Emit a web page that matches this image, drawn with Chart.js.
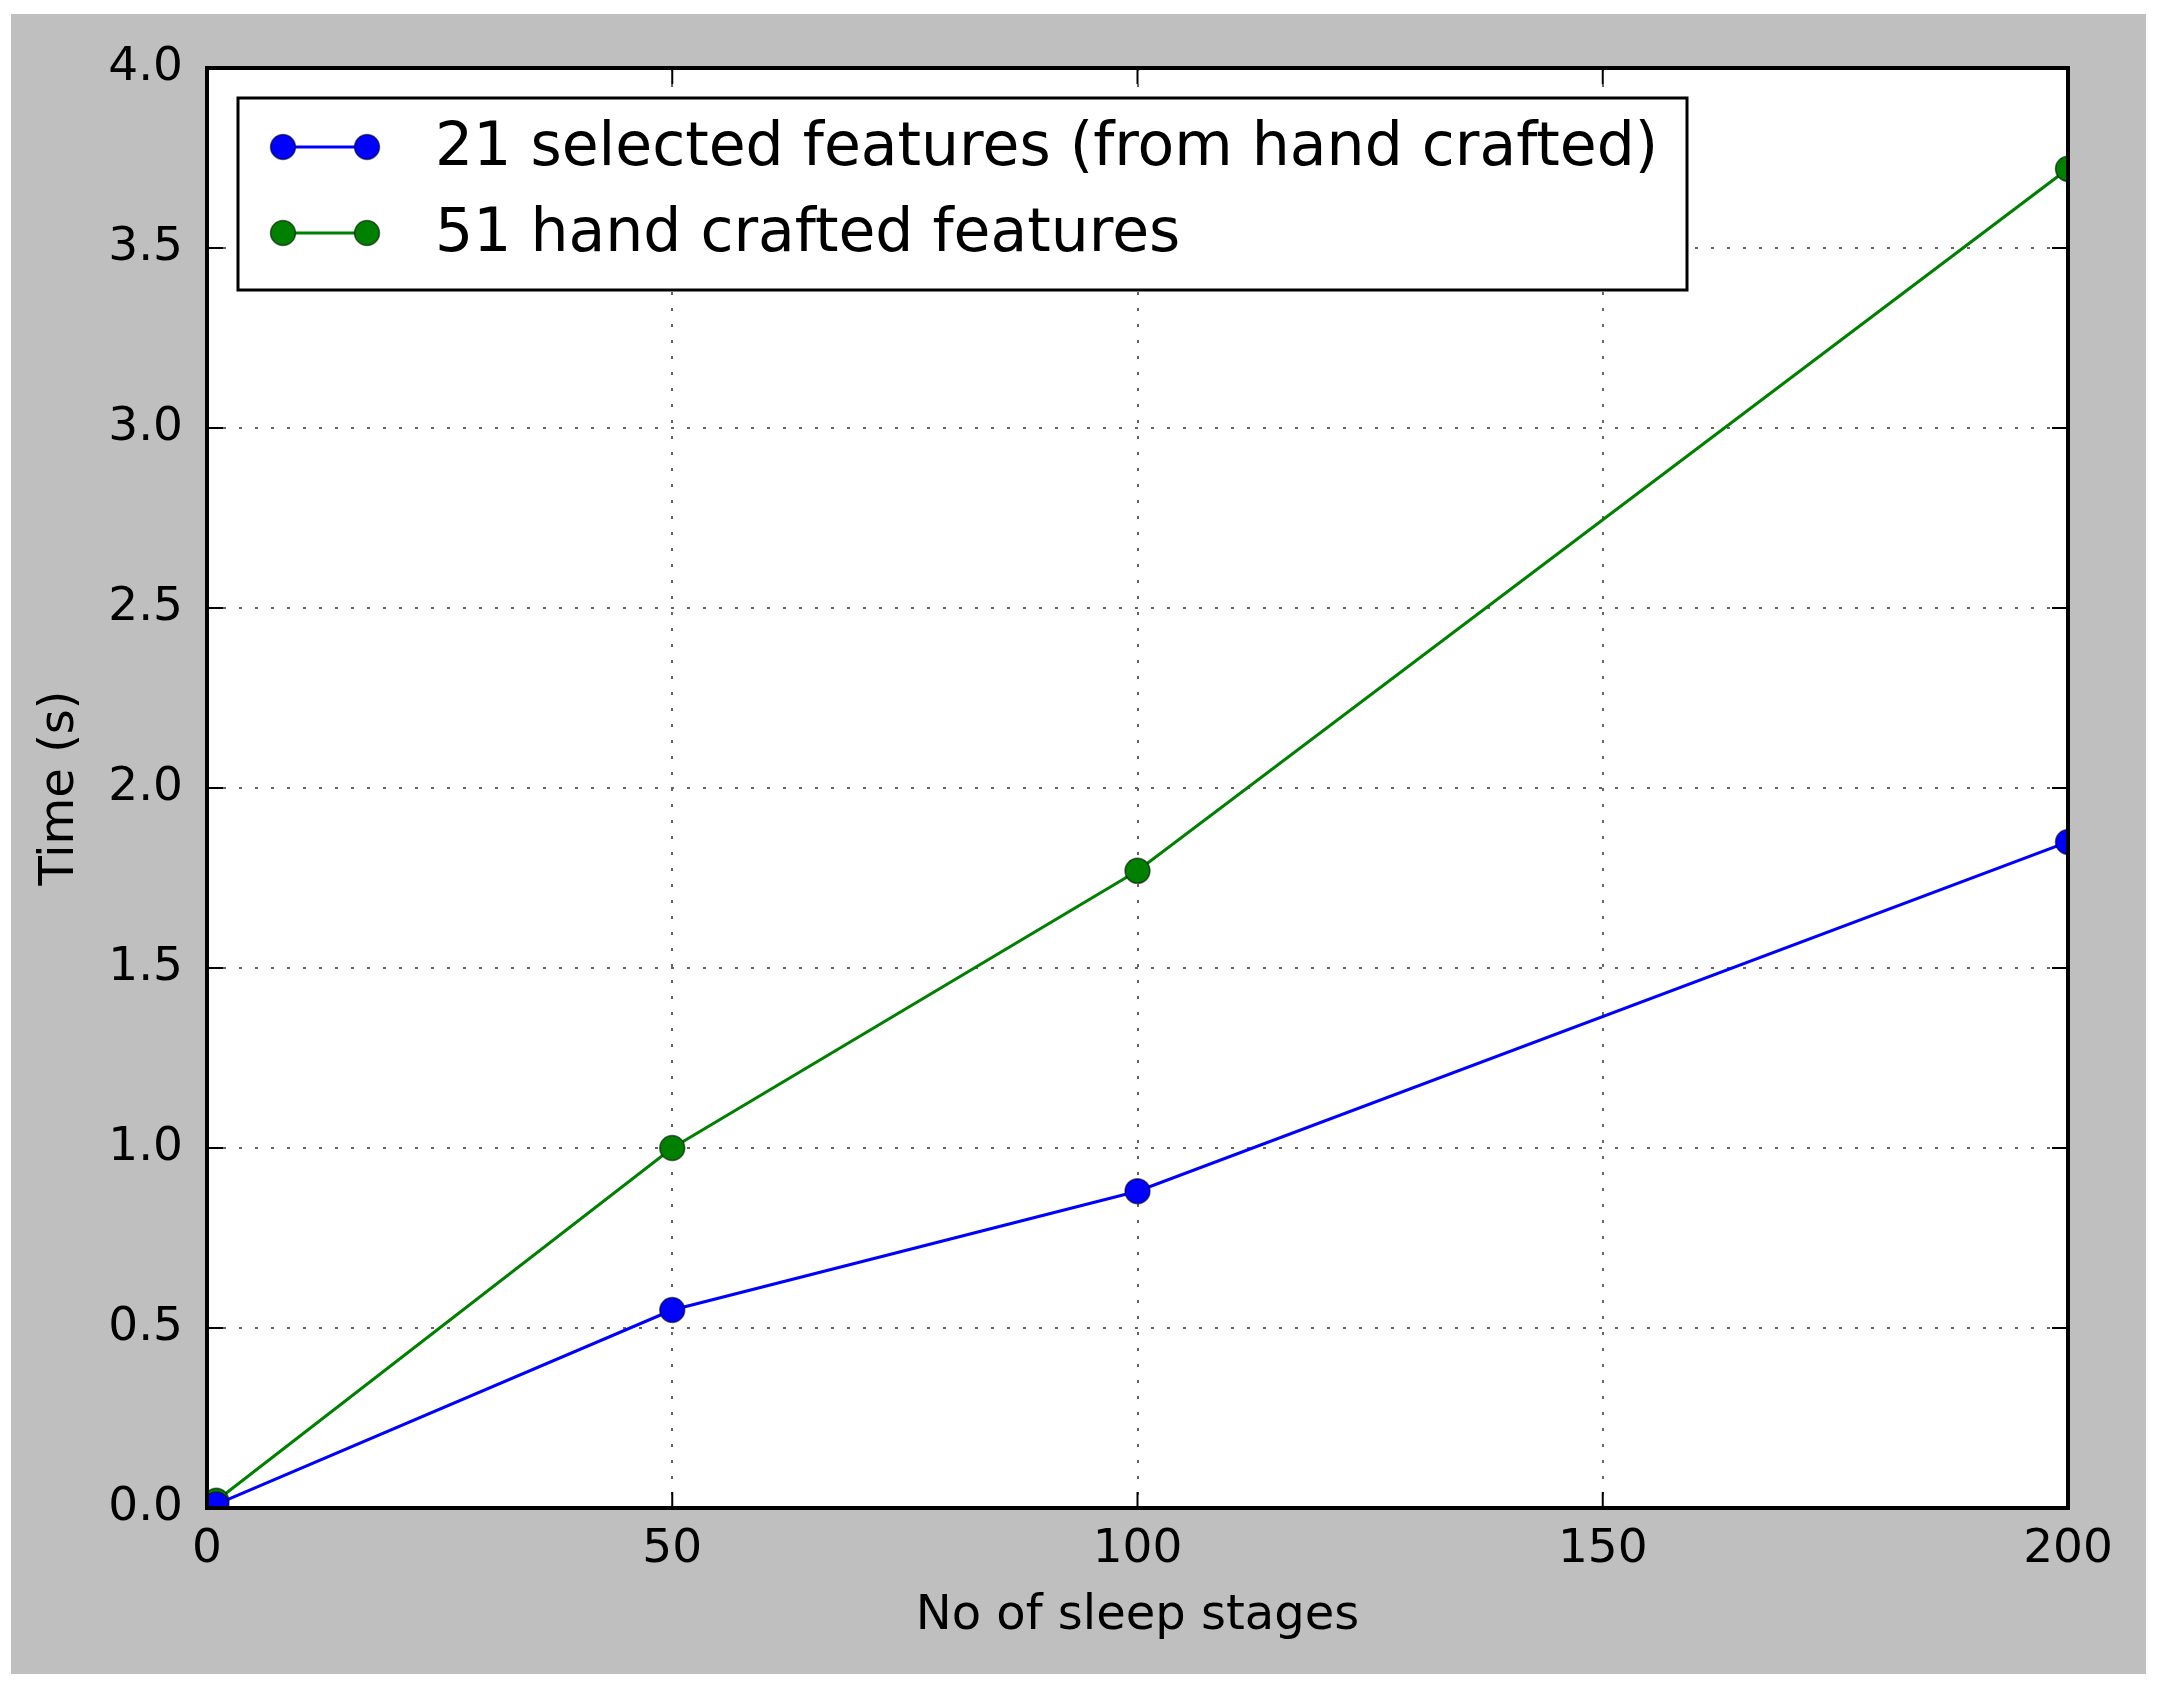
<!DOCTYPE html>
<html>
<head>
<meta charset="utf-8">
<script src="https://cdn.jsdelivr.net/npm/chart.js@4.4.1/dist/chart.umd.min.js"></script>
<style>
  html, body { margin: 0; padding: 0; background: #fff; overflow: hidden; }
  #wrap { width: 2158px; height: 1689px; position: relative; }
</style>
</head>
<body>
<div id="wrap"><canvas id="timeChart"></canvas></div>
<script>
// values
const sleepStages = [1, 50, 100, 200];
const selected21 = [0.01, 0.55, 0.88, 1.85];
const handCrafted51 = [0.02, 1.0, 1.77, 3.72];
const seriesNames = ["21 selected features (from hand crafted)", "51 hand crafted features"];
const seriesColors = ["#0000ff", "#008000"];
const xTitle = "No of sleep stages";
const yTitle = "Time (s)";

const FONT = "'DejaVu Sans', sans-serif";

// gray figure background + white axes face
const backgroundPlugin = {
  id: "figureBg",
  beforeDraw(chart) {
    const { ctx, chartArea: a } = chart;
    ctx.save();
    ctx.fillStyle = "#ffffff";
    ctx.fillRect(0, 0, chart.width, chart.height);
    ctx.fillStyle = "#bfbfbf";
    ctx.fillRect(11, 14, 2135, 1660);
    ctx.fillStyle = "#ffffff";
    ctx.fillRect(a.left, a.top, a.right - a.left, a.bottom - a.top);
    ctx.restore();
  }
};

// box on all four sides, inward ticks, then the legend on top
const frameLegendPlugin = {
  id: "frameLegend",
  afterDraw(chart) {
    const { ctx, chartArea: a, scales } = chart;
    const tl = 16;
    ctx.save();
    ctx.strokeStyle = "#000";
    ctx.lineWidth = 2;
    scales.x.ticks.forEach(t => {
      const px = scales.x.getPixelForValue(t.value);
      ctx.beginPath();
      ctx.moveTo(px, a.bottom); ctx.lineTo(px, a.bottom - tl);
      ctx.moveTo(px, a.top); ctx.lineTo(px, a.top + tl);
      ctx.stroke();
    });
    scales.y.ticks.forEach(t => {
      const py = scales.y.getPixelForValue(t.value);
      ctx.beginPath();
      ctx.moveTo(a.left, py); ctx.lineTo(a.left + tl, py);
      ctx.moveTo(a.right, py); ctx.lineTo(a.right - tl, py);
      ctx.stroke();
    });
    ctx.lineWidth = 4;
    ctx.strokeRect(a.left, a.top, a.right - a.left, a.bottom - a.top);

    // legend
    const lx = a.left + 31, ly = a.top + 30, lw = 1449, lh = 192;
    ctx.fillStyle = "#fff";
    ctx.fillRect(lx, ly, lw, lh);
    ctx.lineWidth = 3;
    ctx.strokeRect(lx, ly, lw, lh);
    ctx.font = "60px " + FONT;
    ctx.textBaseline = "middle";
    ctx.textAlign = "left";
    chart.data.datasets.forEach((ds, i) => {
      const y = ly + 49 + i * 86;
      const x1 = lx + 45, x2 = lx + 129;
      ctx.strokeStyle = ds.borderColor;
      ctx.lineWidth = ds.borderWidth;
      ctx.beginPath();
      ctx.moveTo(x1, y); ctx.lineTo(x2, y);
      ctx.stroke();
      [x1, x2].forEach(mx => {
        ctx.beginPath();
        ctx.arc(mx, y, ds.pointRadius, 0, Math.PI * 2);
        ctx.fillStyle = ds.pointBackgroundColor;
        ctx.fill();
        ctx.lineWidth = ds.pointBorderWidth;
        ctx.strokeStyle = ds.pointBorderColor;
        ctx.stroke();
      });
      ctx.fillStyle = "#000";
      ctx.fillText(ds.label, lx + 197, y + 2);
    });
    ctx.restore();
  }
};

const makeSeries = (label, values, color) => ({
  label: label,
  data: sleepStages.map((s, i) => ({ x: s, y: values[i] })),
  borderColor: color,
  backgroundColor: color,
  borderWidth: 3,
  pointRadius: 12.5,
  pointHoverRadius: 12.5,
  pointBackgroundColor: color,
  pointBorderColor: "rgba(0,0,0,0.55)",
  pointBorderWidth: 1.5,
  tension: 0,
  fill: false,
  clip: 0
});

const ctxTime = document.getElementById("timeChart").getContext("2d");
const timeChart = new Chart(ctxTime, {
  type: "line",
  data: {
    datasets: [
      makeSeries(seriesNames[0], selected21, seriesColors[0]),
      makeSeries(seriesNames[1], handCrafted51, seriesColors[1])
    ]
  },
  options: {
    responsive: true,
    maintainAspectRatio: false,
    animation: false,
    events: [],
    layout: { padding: { top: 68, right: 90, left: 0, bottom: 0 } },
    plugins: {
      legend: { display: false },
      tooltip: { enabled: false }
    },
    scales: {
      x: {
        type: "linear",
        min: 0,
        max: 200,
        afterFit: scale => { scale.height = 181; },
        ticks: {
          stepSize: 50,
          padding: 14,
          color: "#000",
          maxRotation: 0,
          font: { family: FONT, size: 47 }
        },
        grid: { color: "#666666", lineWidth: 2, drawTicks: false },
        border: { display: false, dash: [3, 13] },
        title: {
          display: true,
          text: xTitle,
          color: "#000",
          font: { family: FONT, size: 48 },
          padding: { top: 0, bottom: 44 }
        }
      },
      y: {
        type: "linear",
        min: 0,
        max: 4,
        afterFit: scale => { scale.width = 207; },
        ticks: {
          stepSize: 0.5,
          padding: 24,
          color: "#000",
          font: { family: FONT, size: 47 },
          callback: v => v.toFixed(1)
        },
        grid: { color: "#666666", lineWidth: 2, drawTicks: false },
        border: { display: false, dash: [3, 13] },
        title: {
          display: true,
          text: yTitle,
          color: "#000",
          font: { family: FONT, size: 48 },
          padding: { top: 32, bottom: 0 }
        }
      }
    }
  },
  plugins: [backgroundPlugin, frameLegendPlugin]
});
</script>
</body>
</html>
